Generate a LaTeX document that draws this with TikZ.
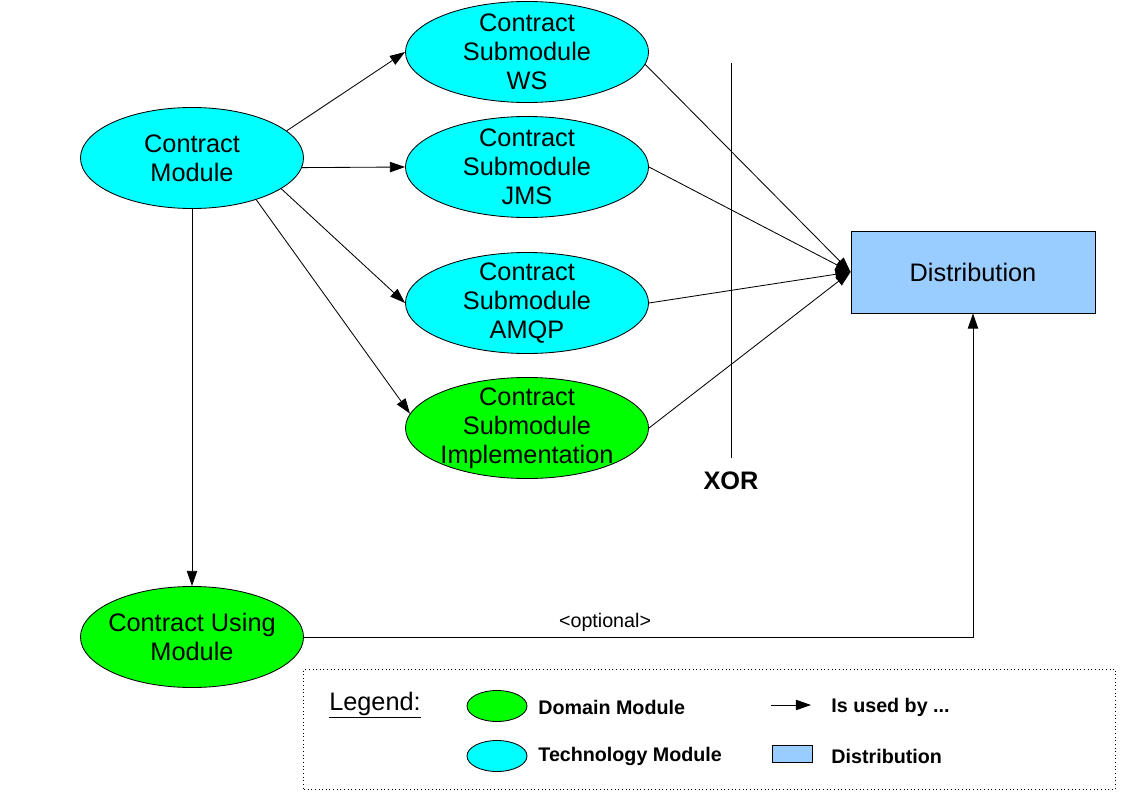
\documentclass[tikz,border=0pt]{standalone}
\usepackage{fontspec}
\setmainfont{Liberation Sans}
\usepackage{tikz}
\usepackage{xcolor}
\usetikzlibrary{positioning,shapes.geometric,arrows.meta}
\definecolor{techcyan}{HTML}{00FFFF}
\definecolor{domgreen}{HTML}{00FF00}
\definecolor{distblue}{HTML}{99CCFF}

\begin{document}
\begin{tikzpicture}[x=0.025cm, y=-0.025cm, line width=0.6pt,
      >={Triangle[length=3.8mm, width=2.6mm]},
      modul/.style={ellipse, draw, align=center, inner sep=-12pt, font=\fontsize{18}{20.7}\selectfont},
      modsub/.style={modul, minimum width=6.075cm, minimum height=2.525cm},
      modmain/.style={modul, minimum width=5.575cm, minimum height=2.525cm},
      modleg/.style={modul, minimum width=1.5cm, minimum height=0.775cm},
      tech/.style={fill=techcyan},
      dom/.style={fill=domgreen},
      legtext/.style={anchor=west, inner sep=0pt, font=\fontsize{14}{16}\bfseries\selectfont}]
      \useasboundingbox (0,0) rectangle (1123,794);
      %\draw [dotted] (0,0) grid [step=50] (1123,794);
      \node [modmain, tech] (cm)   at (192,158) {Contract\\Module};
      \node [modmain, dom]  (cu)   at (192,637) {Contract Using\\Module};
      \node [modsub, tech]  (ws)   at (527, 52) {Contract\\Submodule\\WS};
      \node [modsub, tech]  (jms)  at (527,167) {Contract\\Submodule\\JMS};
      \node [modsub, tech]  (amqp) at (527,303) {Contract\\Submodule\\AMQP};
      \node [modsub, dom]   (impl) at (527,428) {Contract\\Submodule\\Implementation};
      \node [rectangle, draw, fill=distblue, minimum width=6.1cm, minimum height=2.05cm,
             font=\fontsize{18}{20.7}\selectfont] (dist) at (973,272) {Distribution};
      \coordinate (xt) at (731, 63);
      \coordinate (xb) at (731,458);
      \node [font=\fontsize{18}{20}\bfseries\selectfont] (xor) at (731,481) {XOR};
      \draw (xt) -- (xb);
      \draw [->] (cm.16)  -- (ws.west);
      \draw [->] (cm.-5)  -- (jms.west);
      \draw [->] (cm.-19) -- (amqp.west);
      \draw [->] (cm.-33) -- (impl.173);
      \draw [->] (cm.south) -- (cu.north);
      \draw [->] (ws.-6)     -- (dist.west);
      \draw [->] (jms.east)  -- (dist.west);
      \draw [->] (amqp.east) -- (dist.west);
      \draw [->] (impl.east) -- (dist.west);
      \draw [->] (cu.east) -| (dist.south) node [pos=0.225, above, font=\fontsize{14}{16}\selectfont] (opt) {<optional>};
      % legend
      \node [draw, dotted, minimum width=20.275cm, minimum height=3cm] (leg) at (709.5,729) {};
      \node [font=\fontsize{18}{20}\selectfont] (legt) at (375,705) {\underline{Legend:}};
      \node [modleg, dom]  (lgdom)  at (497,706) {};
      \node [modleg, tech] (lgtech) at (497,756) {};
      \node [legtext] (lgdomt)  at (538,707) {Domain Module};
      \node [legtext] (lgtecht) at (538,756) {Technology Module};
      \coordinate (la) at (771,705);
      \coordinate (lb) at (811,705);
      \draw [->] (la) -- (lb);
      \node [rectangle, draw, fill=distblue, minimum width=1cm, minimum height=0.425cm, inner sep=0pt] (lgdist) at (792,754) {};
      \node [legtext] (lgarrt)  at (831,707) {Is used by ...};
      \node [legtext] (lgdistt) at (831,756) {Distribution};
\end{tikzpicture}
\end{document}
